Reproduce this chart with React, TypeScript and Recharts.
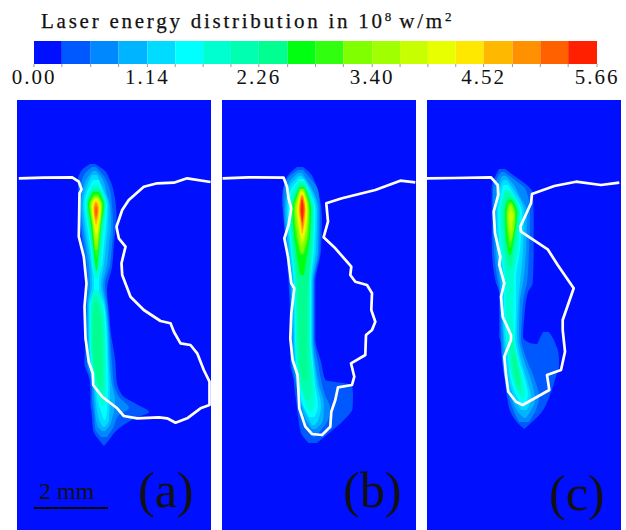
import React from "react";
import {
  Area,
  Bar,
  BarChart,
  Cell,
  ComposedChart,
  ReferenceLine,
  Scatter,
  XAxis,
  YAxis,
} from "recharts";

// colour of each band, lowest first
const bandColors = [
  "#0010ff", "#0058ff", "#0088ff", "#00b4ff", "#00dcff",
  "#00ffff", "#00ffd0", "#00ffb0", "#00ff90", "#00ff10",
  "#30ff10", "#80ff00", "#a0ff00", "#c8ff00", "#e8ff00",
  "#ffe800", "#ffb800", "#ff9000", "#ff6000", "#ff2000",
];

// band edges of the colour scale, 10^8 w/m2
const scaleTicks = [
  0, 0.28, 0.57, 0.85, 1.14, 1.42, 1.7, 1.98, 2.26, 2.55, 2.83,
  3.11, 3.4, 3.68, 3.96, 4.24, 4.52, 4.81, 5.09, 5.37, 5.66,
];
const scaleLabels = [0, 1.14, 2.26, 3.4, 4.52, 5.66];

type Row = [number, number, number]; // depth, left edge, right edge
type Level = [number, Row[]]; // band index, outline
type Pt = [number, number]; // x, depth

// plate coordinates: 0-194 across, 0-430 down
const plate: Level = [0, [[0, 0, 194], [430, 0, 194]]];

const contoursA: Level[] = [
  [1, [[64,73,78],[70,65,87],[80,61,93],[93,61,97],[117,62,99.5],[143,65,97],[167,68.5,95],[190,69.5,90],[217,68.5,92.5],[230,68.5,93.5],[263,67.5,98.5],[280,72.5,99.5],[295,73.5,105],[305,73.5,121],[312,74.5,132],[318,75,118.5],[330,76,100],[340,82,92],[346,87,87]]],
  [2, [[67,75,79],[75,67,86],[90,63,93],[105,62.5,95],[125,64,96],[145,67,95],[165,70,93],[185,71,88],[205,69.5,90.5],[230,69.5,92.5],[263,70,95],[285,75,97],[298,75,103],[308,76,112],[315,77,102],[328,78,96],[337,84,90]]],
  [3, [[71,76,79],[80,69,86],[95,65,90],[105,64,93],[125,66,94],[145,69,92],[165,72,90],[185,73,86],[205,70.5,89],[230,70.5,91.5],[262,72,93],[285,76,95],[300,77,98],[325,80,93],[331,85,88]]],
  [4, [[75,75,80],[88,69,86],[105,66,91.5],[125,68,91],[145,71,89],[165,74,87],[185,75,84],[205,71.5,88],[230,71.5,90.5],[262,73,91.5],[285,77,93],[320,82,92],[327,86,88]]],
  [5, [[80,76,82],[92,70,86],[105,67.5,90],[125,70,89],[145,73,87],[165,75,85],[180,77,82],[192,77,82],[205,72.5,87],[230,72.5,89.5],[262,74,90.5],[285,78,91],[312,84,90],[320,87,88]]],
  [6, [[85,76,82],[105,69,89],[125,71,87],[145,74,85],[165,76,84],[178,78,81]]],
  [6, [[190,77,81],[205,73.5,86],[230,73.5,88],[262,75,89],[290,79,89],[305,84,87]]],
  [7, [[88,76,82],[105,70,88],[125,72,86],[145,75,84],[160,77,82],[172,78,80]]],
  [7, [[196,77,81],[215,74.5,85],[240,74.5,87],[262,76,87],[282,80,87],[296,83,85]]],
  [8, [[90,76,82],[105,70.5,87.5],[125,73,85],[145,76,83],[165,78,80]]],
  [8, [[202,78,80],[220,75.5,84],[245,75.5,85],[270,78,85],[285,81,84]]],
  [9, [[92,76,82],[105,71,87],[125,74,84],[145,76,82],[170,79,80]]],
  [10, [[94,77,81],[105,72,86],[125,75,84],[145,77,82],[158,79,80]]],
  [11, [[96,77,81],[105,73,85],[125,75.5,83],[150,78,80.5]]],
  [12, [[97,77,81],[105,74,84.5],[125,76,83],[145,78,80]]],
  [13, [[98,77.5,81],[105,74.5,84],[125,76.5,82.5],[138,78.5,80]]],
  [14, [[99,78,80.5],[108,75,83.5],[122,77,82],[133,78.5,80]]],
  [15, [[100,78,80.5],[108,76,83],[120,77,81.5],[128,78.5,80]]],
  [16, [[102,78,80],[108,76.5,82],[118,77.5,81],[124,78.5,79.5]]],
  [17, [[103,78.5,79.5],[110,77,81],[120,78.5,79.5]]],
  [18, [[106,78.6,79.4],[111,78,80.5],[117,78.7,79.3]]],
];

const contoursB: Level[] = [
  [1, [[67,75,81],[73,68,88],[83,62.6,93.3],[100,60,98],[117,61.6,100],[150,64,99],[183,66.6,93.3],[238,68.3,93.3],[263,68.3,99.3],[280,71.6,103.3],[285,72,130],[295,73.3,131],[308,75,130.6],[320,76.6,122],[333,79,107],[343,86.6,95]]],
  [2, [[70,76,81],[78,66,88],[90,61.5,96],[110,61.5,98],[150,65,97.5],[183,68,92],[238,69.5,92],[263,70,96],[280,73,99],[295,76,103],[308,78,108],[320,81,106],[330,86,99],[337,91,93]]],
  [3, [[73,76,80],[85,66,88],[110,63,96.5],[150,66,96],[183,69,91],[238,70.5,91],[263,72,93],[285,75,97],[305,79,102],[320,84,101],[329,90,94]]],
  [4, [[76,77,80],[88,67,88],[110,64.5,95],[150,67.5,94],[183,71,90],[238,72,90],[263,73,92],[285,76,95],[305,80,99],[318,86,97],[325,90,93]]],
  [5, [[79,77,82],[92,68,88],[110,66,93.5],[150,69,92],[183,72,89],[238,73,89],[263,74,91],[285,77,93],[305,81,96],[317,87,93]]],
  [6, [[81,77,83],[95,69,89],[110,67.5,92],[150,70,91],[183,73,88],[238,74,88],[263,75,90],[285,78,92],[302,83,93],[312,87,90]]],
  [7, [[83,78,82],[110,68.5,91],[150,71,90],[185,74.5,87],[238,75,87],[263,76,88],[285,79,90],[300,84,88]]],
  [8, [[85,78,82],[110,69.5,90],[150,72.5,88],[175,75,87],[210,76,85],[238,77,85],[263,78,85],[280,81,86]]],
  [9, [[87,78,82],[110,70.5,89],[135,72,88],[155,75,85],[175,78,82]]],
  [10, [[88,78,82],[110,71.5,88],[135,73.5,87],[155,78,82]]],
  [11, [[89,78,82],[110,72.5,87],[135,75,85.5],[153,79,81]]],
  [12, [[90,78.5,81.5],[110,73.5,86],[130,76,85],[146,79,81]]],
  [13, [[91,78.5,81.5],[110,74.5,85.5],[130,77,84],[142,79,81]]],
  [14, [[92,79,81.5],[110,75.5,85],[128,77.5,83.5],[139,79.5,81]]],
  [15, [[93,79,81],[110,76,84.5],[125,78,83],[136,79.5,80.5]]],
  [16, [[95,79,81],[110,77,83.5],[122,78.5,82.5],[133,79.5,80.5]]],
  [17, [[96,79,81],[110,77.5,83],[120,79,82],[129,80,81]]],
  [18, [[98,79.5,80.5],[110,78,82.5],[120,79.5,81],[126,80,80.5]]],
  [19, [[100,79.5,80.5],[110,79,81.5],[122,80,80.5]]],
];

const contoursC: Level[] = [
  [1, [[69,72,78],[77,68,89],[87,64.7,102],[93,64.7,105.7],[117,64.7,106.7],[150,65,106.7],[183,69,105.7],[193,72.3,100.7],[217,72.3,97.3],[237,72.3,96],[243,74,103],[247,74,130],[260,75,132],[267,76,132],[273,77,130],[297,80,122.3],[313,84,114],[323,90.7,104],[329,97.3,97.3]]],
  [1, [[232,116,122],[240,112,127],[250,108,130]]],
  [2, [[72,74,77],[80,69,88],[90,66,99],[112,66,103],[150,67,102],[183,71,100],[195,73,97],[217,73.5,95],[237,74,94],[255,75,98],[275,77,106],[297,82,112],[312,87,108],[322,92,102]]],
  [3, [[76,75,79],[85,71,87],[95,69,92],[112,68,100],[150,69,99],[183,73,96],[200,74,93],[237,76,92],[260,77,97],[280,80,104],[300,85,108],[312,91,103],[318,97,99]]],
  [4, [[80,76,80],[90,72,87],[112,69.5,97],[150,71,96],[183,75,93],[205,75.5,91],[237,77,90],[260,79,94],[280,82,100],[297,87,104],[310,94,100]]],
  [5, [[85,76,81],[95,74,87],[112,71,95],[150,73,93],[180,77,89],[210,77,89],[237,79,88],[260,81,92],[280,84,98],[295,89,101],[305,95,98]]],
  [6, [[90,77,83],[112,73,93],[150,75,91],[175,78,87],[215,79,86],[240,80,87],[260,82,91],[280,86,96],[293,91,98],[300,95,96]]],
  [7, [[93,78,84],[112,75,92],[145,77,89],[170,80,85]]],
  [7, [[235,82,85],[260,84,90],[282,88,94],[292,92,95]]],
  [8, [[97,79,85],[112,77,91],[140,78,88],[165,81,84]]],
  [8, [[255,85,88],[275,88,92],[285,90,93]]],
  [9, [[100,81,85],[112,78,90],[138,79,87],[155,82,84]]],
  [10, [[102,81,85],[115,79,89],[132,80,87],[148,82,84]]],
  [11, [[104,82,85],[115,80,88],[130,81,87],[142,83,84]]],
  [12, [[106,83,85],[115,81,87],[128,82,86],[136,83.5,84.5]]],
  [13, [[110,83.5,85],[116,82,86],[124,83,85],[130,84,84.5]]],
];

// weld pool outlines
const poolA: Pt[] = [
  [1.8,78.3],[26.8,77.7],[55.2,77.3],[61.8,81.7],[64.5,89.3],[62.5,93.3],[62.2,113.3],[61.8,136.7],[66.8,156.7],[69.5,183.3],[67.5,206.7],[68.5,238.3],
  [71.8,261.7],[75.8,273.3],[76.2,285],[85.2,296.7],[100.2,308.3],[106.8,316],[120.2,318.3],[141.8,317.3],[150.2,318.3],[158.5,322.7],[170.2,318.3],[183.5,308.3],[192.5,305],[192.5,296.7],
  [192.5,281.7],[186.8,270],[180.2,253.3],[173.5,245],[163.5,243.3],[157,232],[153.5,223.3],[143.5,221],[126.8,210],[113.5,196.7],[105.2,175],[104.5,163.3],[108.5,146.7],[101.8,138.3],[99.5,126.7],[105.2,110],[111.8,100],[126.8,86.7],[140.2,83.3],[156.8,82.7],[170.2,78.3],[193.5,82],
];
const poolB: Pt[] = [
  [0.6,78.3],[26.6,77.3],[61.6,77.7],[65,86.7],[66.6,98.3],[69.3,108.3],[66.6,125],[62.3,138.3],[66,156.7],[69.3,183.3],[72.3,188.3],[69.3,213.3],[68.3,238.3],
  [70.6,260],[75.6,275],[77.3,308.3],[83.3,326.7],[90,334],[100,335],[108.3,326.7],[109.3,311.7],[113.3,300],[116,287.3],[130,285],[132.3,276.7],[129,263.3],[143.3,255],[144,235],[150,230],
  [153.3,221.7],[149.3,210],[150,193.3],[145,185],[133.3,181.7],[128.3,175],[129.3,166.7],[113.3,148.3],[101.6,137.3],[106,121.7],[104.3,103.3],[120,98.3],[153.3,90],[178.3,80.7],[193.3,82.3],
];
const poolC: Pt[] = [
  [0,78.3],[27.3,78],[64,77.3],[70.7,85],[71.3,95],[66.7,111.7],[68,133.3],[73.3,156.7],[72.3,165],[77.3,183.3],[74,196.7],[75.7,216.7],[84,235],
  [84,240],[77.3,256.7],[79,275],[81.3,291.7],[89,301.7],[95.7,305],[122.3,290],[120,275],[134,270],[138,251.7],[135.7,230],
  [135.7,220],[146.7,188.3],[130.7,165],[120.7,149.3],[94,131.7],[93.3,126.7],[104,103.3],[105,94],[127.3,86],[149,81.7],[174,85],[192.3,82.7],
];

const serif = '"Liberation Serif", serif';

function Plate({ levels, pool, left, bar }: { levels: Level[]; pool: Pt[]; left: number; bar?: boolean }) {
  return (
    <div style={{ position: "absolute", left, top: 100 }}>
      <ComposedChart
        layout="vertical"
        width={194}
        height={430}
        margin={{ top: 0, right: 0, bottom: 0, left: 0 }}
      >
        <XAxis type="number" dataKey="x" domain={[0, 194]} hide />
        <YAxis type="number" dataKey="d" domain={[0, 430]} hide />
        {[plate, ...levels].map(([band, rows], i) => (
          <Area
            key={i}
            data={rows.map(([d, lo, hi]) => ({ d, range: [lo, hi] }))}
            dataKey="range"
            type="monotoneY"
            stroke="none"
            fill={bandColors[band]}
            fillOpacity={1}
            dot={false}
            activeDot={false}
            isAnimationActive={false}
          />
        ))}
        <Scatter
          data={pool.map(([x, d]) => ({ x, d }))}
          line={{ stroke: "#ffffff", strokeWidth: 2.7, strokeLinejoin: "round" }}
          lineType="joint"
          shape={() => null}
          isAnimationActive={false}
        />
        {bar && (
          <ReferenceLine
            segment={[{ x: 17, y: 408 }, { x: 91, y: 408 }]}
            stroke="#000000"
            strokeWidth={2}
          />
        )}
      </ComposedChart>
    </div>
  );
}

function ColorScale() {
  const row: Record<string, number> = {};
  bandColors.forEach((_, i) => {
    row[`b${i}`] = scaleTicks[i + 1] - scaleTicks[i];
  });
  return (
    <div style={{ position: "absolute", left: 0, top: 41 }}>
      <BarChart
        layout="vertical"
        width={626}
        height={53}
        data={[row]}
        barCategoryGap={0}
        margin={{ top: 0, right: 29, bottom: 0, left: 34 }}
      >
        <XAxis
          type="number"
          domain={[0, 5.66]}
          ticks={scaleTicks}
          interval={0}
          height={30}
          axisLine={false}
          tickSize={3}
          tickLine={{ stroke: "#999999" }}
          tick={{ fill: "#111111", fontSize: 21, fontFamily: serif, letterSpacing: 2 }}
          tickFormatter={(v: number) => (scaleLabels.includes(v) ? v.toFixed(2) : "")}
        />
        <YAxis type="category" hide />
        {bandColors.map((c, i) => (
          <Bar key={c} dataKey={`b${i}`} stackId="scale" isAnimationActive={false}>
            <Cell fill={c} />
          </Bar>
        ))}
      </BarChart>
    </div>
  );
}

function Caption({ text, left, top }: { text: string; left: number; top: number }) {
  return (
    <div style={{ position: "absolute", left, top, fontFamily: serif, fontSize: 50, lineHeight: "50px", color: "#111111" }}>
      {text}
    </div>
  );
}

const sup: React.CSSProperties = { fontSize: 13, position: "relative", top: -7, letterSpacing: 0 };

export default function App() {
  return (
    <div style={{ position: "absolute", left: 0, top: 0, width: 626, height: 530, overflow: "hidden", background: "#ffffff" }}>
      <div style={{ position: "absolute", left: 41, top: 9, fontFamily: serif, fontSize: 21, letterSpacing: 2.75, color: "#111111", whiteSpace: "nowrap", WebkitTextStroke: "0.25px #111111" }}>
        Laser energy distribution in 10<span style={sup}>8</span> w/m<span style={sup}>2</span>
      </div>
      <ColorScale />
      <Plate levels={contoursA} pool={poolA} left={16.5} bar />
      <Plate levels={contoursB} pool={poolB} left={221.5} />
      <Plate levels={contoursC} pool={poolC} left={427} />
      <div style={{ position: "absolute", left: 39, top: 478, fontFamily: serif, fontSize: 24, color: "#111111" }}>2 mm</div>
      <Caption text="(a)" left={138} top={465} />
      <Caption text="(b)" left={343} top={465} />
      <Caption text="(c)" left={549} top={468} />
    </div>
  );
}
